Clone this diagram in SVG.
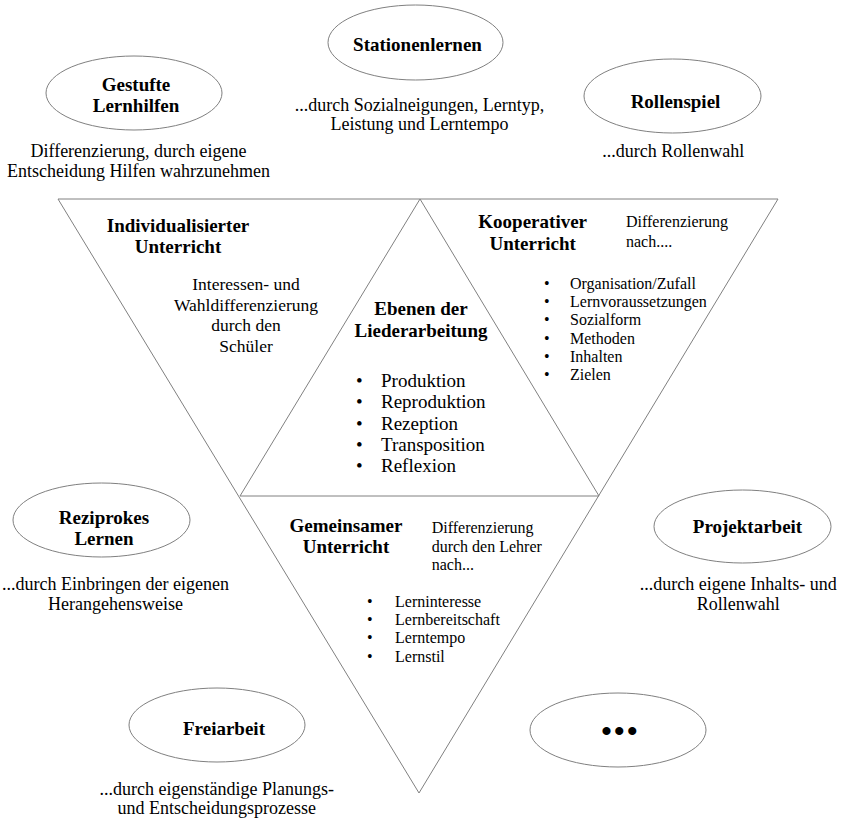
<svg xmlns="http://www.w3.org/2000/svg" width="841" height="819" viewBox="0 0 841 819">
<style>
.shape{fill:none;stroke:#808080;stroke-width:1}
.ell{fill:#ffffff;stroke:#808080;stroke-width:1}
text{font-family:"Liberation Serif","Times New Roman",serif;fill:#000}
.t{font-size:19px;font-weight:bold;text-anchor:middle}
.d{font-size:18px;text-anchor:middle}
.m{font-size:17.5px;text-anchor:middle}
.c{font-size:19px}
.s{font-size:16px}
</style>
<rect width="841" height="819" fill="#ffffff"/>
<g id="connectors">
<polygon class="shape" points="58,199 778,199 419,793"/>
<polygon class="shape" points="420,199 240,496 599,496"/>
</g>
<g id="gestufte">
<ellipse class="ell" cx="134" cy="93" rx="88" ry="37"/>
<text class="t" x="136" y="91">Gestufte</text>
<text class="t" x="136" y="112">Lernhilfen</text>
<text class="d" x="138.5" y="157">Differenzierung, durch eigene</text>
<text class="d" x="138.5" y="177">Entscheidung Hilfen wahrzunehmen</text>
</g>
<g id="stationenlernen">
<ellipse class="ell" cx="415.5" cy="42.5" rx="87.5" ry="37.5"/>
<text class="t" x="417.5" y="51">Stationenlernen</text>
<text class="d" x="419.5" y="111">...durch Sozialneigungen, Lerntyp,</text>
<text class="d" x="419.5" y="130">Leistung und Lerntempo</text>
</g>
<g id="rollenspiel">
<ellipse class="ell" cx="672.5" cy="96" rx="88.5" ry="37"/>
<text class="t" x="675.5" y="108">Rollenspiel</text>
<text class="d" x="673.3" y="157">...durch Rollenwahl</text>
</g>
<g id="individualisiert">
<text class="t" x="178" y="231.5">Individualisierter</text>
<text class="t" x="178" y="253">Unterricht</text>
<text class="m" x="246" y="290">Interessen- und</text>
<text class="m" x="246" y="310.5">Wahldifferenzierung</text>
<text class="m" x="246" y="331">durch den</text>
<text class="m" x="246" y="351.5">Schüler</text>
</g>
<g id="ebenen">
<text class="t" x="421" y="315">Ebenen der</text>
<text class="t" x="421" y="336.5">Liederarbeitung</text>
<text class="c" x="356" y="387">•</text><text class="c" x="381" y="387">Produktion</text>
<text class="c" x="356" y="408.3">•</text><text class="c" x="381" y="408.3">Reproduktion</text>
<text class="c" x="356" y="429.6">•</text><text class="c" x="381" y="429.6">Rezeption</text>
<text class="c" x="356" y="451">•</text><text class="c" x="381" y="451">Transposition</text>
<text class="c" x="356" y="472.3">•</text><text class="c" x="381" y="472.3">Reflexion</text>
</g>
<g id="kooperativ">
<text class="t" x="532.7" y="228.3">Kooperativer</text>
<text class="t" x="532.7" y="250">Unterricht</text>
<text class="s" x="626" y="227">Differenzierung</text>
<text class="s" x="626" y="247">nach....</text>
<text class="s" x="544" y="289">•</text><text class="s" x="570" y="289">Organisation/Zufall</text>
<text class="s" x="544" y="307">•</text><text class="s" x="570" y="307">Lernvoraussetzungen</text>
<text class="s" x="544" y="325">•</text><text class="s" x="570" y="325">Sozialform</text>
<text class="s" x="544" y="343.5">•</text><text class="s" x="570" y="343.5">Methoden</text>
<text class="s" x="544" y="361.5">•</text><text class="s" x="570" y="361.5">Inhalten</text>
<text class="s" x="544" y="380">•</text><text class="s" x="570" y="380">Zielen</text>
</g>
<g id="gemeinsam">
<text class="t" x="346" y="531.7">Gemeinsamer</text>
<text class="t" x="346" y="553.3">Unterricht</text>
<text class="s" x="431.7" y="533">Differenzierung</text>
<text class="s" x="431.7" y="551.5">durch den Lehrer</text>
<text class="s" x="431.7" y="570">nach...</text>
<text class="s" x="367" y="606.7">•</text><text class="s" x="395" y="606.7">Lerninteresse</text>
<text class="s" x="367" y="625">•</text><text class="s" x="395" y="625">Lernbereitschaft</text>
<text class="s" x="367" y="643.3">•</text><text class="s" x="395" y="643.3">Lerntempo</text>
<text class="s" x="367" y="661.7">•</text><text class="s" x="395" y="661.7">Lernstil</text>
</g>
<g id="reziprok">
<ellipse class="ell" cx="101.5" cy="520" rx="88.5" ry="37"/>
<text class="t" x="104" y="524">Reziprokes</text>
<text class="t" x="104" y="545">Lernen</text>
<text class="d" x="115.5" y="590">...durch Einbringen der eigenen</text>
<text class="d" x="115.5" y="610">Herangehensweise</text>
</g>
<g id="projektarbeit">
<ellipse class="ell" cx="742.5" cy="526.5" rx="88.5" ry="36.5"/>
<text class="t" x="747.5" y="533">Projektarbeit</text>
<text class="d" x="738.3" y="590">...durch eigene Inhalts- und</text>
<text class="d" x="738.3" y="610">Rollenwahl</text>
</g>
<g id="freiarbeit">
<ellipse class="ell" cx="217" cy="725" rx="88" ry="37"/>
<text class="t" x="224" y="735">Freiarbeit</text>
<text class="d" x="216.7" y="795">...durch eigenständige Planungs-</text>
<text class="d" x="216.7" y="814">und Entscheidungsprozesse</text>
</g>
<g id="weitere">
<ellipse class="ell" cx="618" cy="730" rx="88" ry="37"/>
<text x="620.5" y="741" style="font-size:30px;font-weight:bold;text-anchor:middle;letter-spacing:2.3px">•••</text>
</g>
</svg>
